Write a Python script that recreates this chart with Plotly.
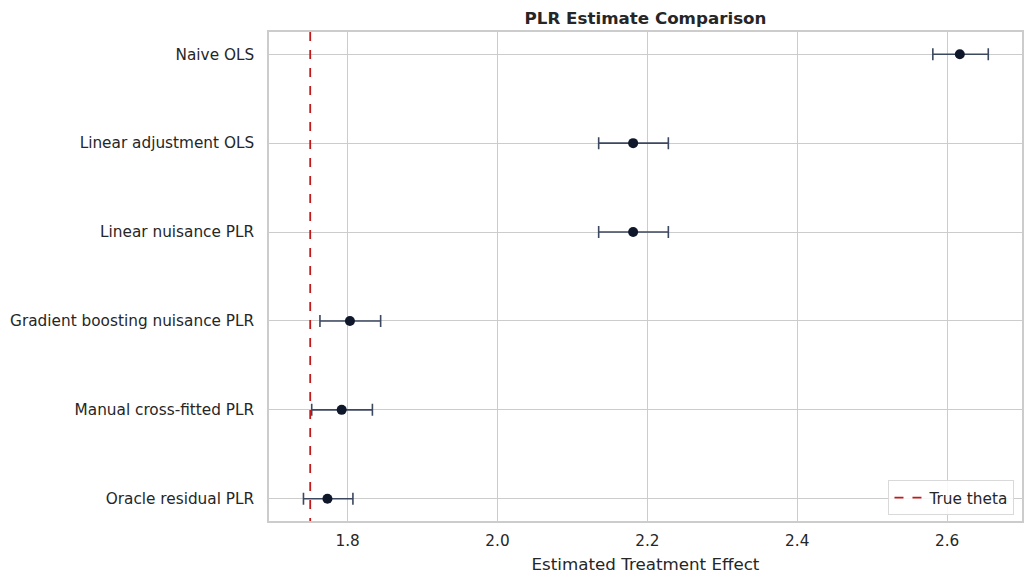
import plotly.graph_objects as go

methods = ["Naive OLS", "Linear adjustment OLS", "Linear nuisance PLR",
           "Gradient boosting nuisance PLR", "Manual cross-fitted PLR", "Oracle residual PLR"]
estimates = [2.617, 2.181, 2.181, 1.803, 1.792, 1.773]
ci_low = [2.581, 2.135, 2.135, 1.763, 1.752, 1.741]
ci_high = [2.655, 2.228, 2.228, 1.844, 1.833, 1.807]
true_theta = 1.75
x_ticks = [1.8, 2.0, 2.2, 2.4, 2.6]

ypos = list(range(len(methods)))
err_plus = [h - e for h, e in zip(ci_high, estimates)]
err_minus = [e - l for l, e in zip(ci_low, estimates)]

fig = go.Figure()
fig.add_trace(go.Scatter(
    x=estimates, y=ypos, mode="markers",
    marker=dict(color="#0f172a", size=10),
    error_x=dict(type="data", symmetric=False, array=err_plus, arrayminus=err_minus,
                 color="#3b4860", thickness=1.6, width=6),
    showlegend=False, hoverinfo="x+y",
))
fig.add_trace(go.Scatter(
    x=[true_theta, true_theta], y=[-0.25, 5.25], mode="lines",
    line=dict(color="#c21a1a", width=1.8, dash="dash"),
    name="True theta", showlegend=True,
))

grid = "#cccccc"
fig.update_layout(
    width=1034, height=584,
    margin=dict(l=268, r=10, t=32, b=63),
    paper_bgcolor="white", plot_bgcolor="white",
    font=dict(family="DejaVu Sans", size=15.3, color="#262626"),
    title=dict(text="<b>PLR Estimate Comparison</b>", x=0.5, xref="paper", xanchor="center",
               y=1 - 18 / 584, yanchor="middle", font=dict(size=16.7, color="#262626")),
    legend=dict(x=0.99, y=0.012, xanchor="right", yanchor="bottom",
                bordercolor="#d9d9d9", borderwidth=1, bgcolor="rgba(255,255,255,0.85)",
                font=dict(size=15.3, color="#262626")),
    xaxis=dict(range=[1.695, 2.70], tickvals=x_ticks, ticktext=[f"{v:.1f}" for v in x_ticks],
               showgrid=True, gridcolor=grid, gridwidth=1, zeroline=False,
               showline=True, linecolor=grid, linewidth=1.5, mirror=True, ticks="",
               ticklabelstandoff=5,
               title=dict(text="Estimated Treatment Effect", font=dict(size=16.7), standoff=9)),
    yaxis=dict(range=[5.25, -0.25], tickvals=ypos, ticktext=methods,
               showgrid=True, gridcolor=grid, gridwidth=1, zeroline=False,
               showline=True, linecolor=grid, linewidth=1.5, mirror=True, ticks="",
               ticklabelstandoff=10),
)
fig.write_html("out.html", config={"displayModeBar": False},
               post_script="document.body.style.margin='0';document.body.style.overflow='hidden';")
